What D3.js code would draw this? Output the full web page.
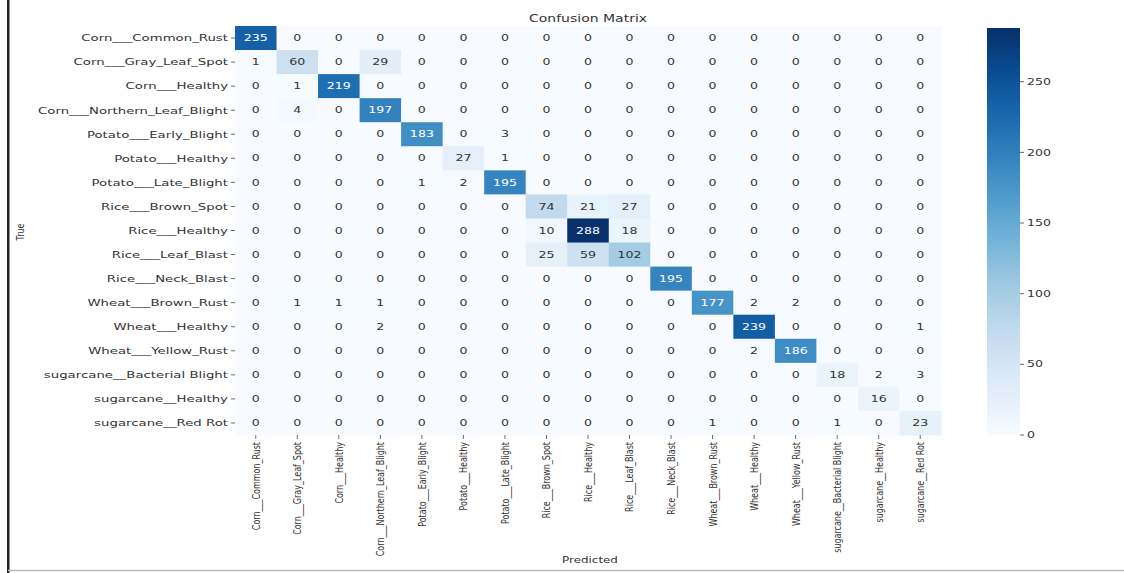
<!DOCTYPE html>
<html>
<head>
<meta charset="utf-8">
<script src="https://cdn.jsdelivr.net/npm/d3@7"></script>
<style>
  body { margin: 0; background: #fff; }
  svg { display: block; font-family: "DejaVu Sans", sans-serif; }
</style>
</head>
<body>
<svg id="chart" width="1124" height="573"></svg>
<script>
// class names (rows = true, cols = predicted)
const classes = [
  "Corn___Common_Rust", "Corn___Gray_Leaf_Spot", "Corn___Healthy", "Corn___Northern_Leaf_Blight",
  "Potato___Early_Blight", "Potato___Healthy", "Potato___Late_Blight",
  "Rice___Brown_Spot", "Rice___Healthy", "Rice___Leaf_Blast", "Rice___Neck_Blast",
  "Wheat___Brown_Rust", "Wheat___Healthy", "Wheat___Yellow_Rust",
  "sugarcane__Bacterial Blight", "sugarcane__Healthy", "sugarcane__Red Rot"
];

const counts = [
  [235,0,0,0,0,0,0,0,0,0,0,0,0,0,0,0,0],
  [1,60,0,29,0,0,0,0,0,0,0,0,0,0,0,0,0],
  [0,1,219,0,0,0,0,0,0,0,0,0,0,0,0,0,0],
  [0,4,0,197,0,0,0,0,0,0,0,0,0,0,0,0,0],
  [0,0,0,0,183,0,3,0,0,0,0,0,0,0,0,0,0],
  [0,0,0,0,0,27,1,0,0,0,0,0,0,0,0,0,0],
  [0,0,0,0,1,2,195,0,0,0,0,0,0,0,0,0,0],
  [0,0,0,0,0,0,0,74,21,27,0,0,0,0,0,0,0],
  [0,0,0,0,0,0,0,10,288,18,0,0,0,0,0,0,0],
  [0,0,0,0,0,0,0,25,59,102,0,0,0,0,0,0,0],
  [0,0,0,0,0,0,0,0,0,0,195,0,0,0,0,0,0],
  [0,1,1,1,0,0,0,0,0,0,0,177,2,2,0,0,0],
  [0,0,0,2,0,0,0,0,0,0,0,0,239,0,0,0,1],
  [0,0,0,0,0,0,0,0,0,0,0,0,2,186,0,0,0],
  [0,0,0,0,0,0,0,0,0,0,0,0,0,0,18,2,3],
  [0,0,0,0,0,0,0,0,0,0,0,0,0,0,0,16,0],
  [0,0,0,0,0,0,0,0,0,0,0,1,0,0,1,0,23]
];

const cbarTicks = [0, 50, 100, 150, 200, 250];

// the picture is stretched sideways, so text gets a horizontal scale
const SX = 1.4;

const svg = d3.select("#chart");

// page edges from the screenshot
svg.append("rect").attr("x", 7).attr("y", 0).attr("width", 2.5).attr("height", 573).attr("fill", "#222");
svg.append("line").attr("x1", 8).attr("x2", 1124).attr("y1", 570.5).attr("y2", 570.5)
  .attr("stroke", "#bbb").attr("stroke-width", 1.5);

const mLeft = 235, mRight = 941, mTop = 26, mBottom = 435;

const x = d3.scaleBand().domain(d3.range(classes.length)).range([mLeft, mRight]);
const y = d3.scaleBand().domain(d3.range(classes.length)).range([mTop, mBottom]);

const vmax = d3.max(counts.flat());
const color = d3.scaleSequential(d3.interpolateBlues).domain([0, vmax]);

function lum(c) {
  const rgb = d3.rgb(c);
  const f = v => { v /= 255; return v <= 0.03928 ? v / 12.92 : Math.pow((v + 0.055) / 1.055, 2.4); };
  return 0.2126 * f(rgb.r) + 0.7152 * f(rgb.g) + 0.0722 * f(rgb.b);
}

const cells = [];
counts.forEach((row, i) => row.forEach((v, j) => cells.push({i, j, v})));

svg.append("g").selectAll("rect")
  .data(cells)
  .enter().append("rect")
  .attr("x", d => x(d.j))
  .attr("y", d => y(d.i))
  .attr("width", x.bandwidth() + 0.5)
  .attr("height", y.bandwidth() + 0.5)
  .attr("fill", d => color(d.v));

svg.append("g").selectAll("text")
  .data(cells)
  .enter().append("text")
  .attr("transform", d => `translate(${x(d.j) + x.bandwidth() / 2},${y(d.i) + y.bandwidth() / 2}) scale(${SX},1)`)
  .attr("text-anchor", "middle")
  .attr("dy", "0.35em")
  .attr("font-size", 9)
  .attr("fill", d => lum(color(d.v)) < 0.408 ? "#fff" : "#333")
  .text(d => d.v);

// y axis labels + ticks
const yAx = svg.append("g");
classes.forEach((c, i) => {
  const cy = y(i) + y.bandwidth() / 2;
  yAx.append("line").attr("x1", mLeft - 4).attr("x2", mLeft).attr("y1", cy).attr("y2", cy)
    .attr("stroke", "#444").attr("stroke-width", 0.8);
  yAx.append("text")
    .attr("transform", `translate(${mLeft - 7},${cy}) scale(${SX},1)`)
    .attr("text-anchor", "end").attr("dy", "0.35em")
    .attr("font-size", 9.5).attr("fill", "#333")
    .text(c);
});

// x axis labels + ticks
const xAx = svg.append("g");
classes.forEach((c, j) => {
  const cx = x(j) + x.bandwidth() / 2;
  xAx.append("line").attr("x1", cx).attr("x2", cx).attr("y1", mBottom).attr("y2", mBottom + 4)
    .attr("stroke", "#444").attr("stroke-width", 0.8);
  xAx.append("text")
    .attr("transform", `translate(${cx},${mBottom + 7}) scale(${SX},1) rotate(-90)`)
    .attr("text-anchor", "end").attr("dy", "0.35em")
    .attr("font-size", 8).attr("fill", "#333")
    .text(c);
});

// title and axis names
svg.append("text").attr("transform", `translate(588,22) scale(${SX},1)`)
  .attr("text-anchor", "middle").attr("font-size", 10).attr("fill", "#333").text("Confusion Matrix");
svg.append("text").attr("transform", `translate(590,563) scale(${SX},1)`)
  .attr("text-anchor", "middle").attr("font-size", 8.5).attr("fill", "#333").text("Predicted");
svg.append("text").attr("transform", `translate(24,232) scale(${SX},1) rotate(-90)`)
  .attr("text-anchor", "middle").attr("font-size", 8).attr("fill", "#333").text("True");

// colorbar
const cbX = 987, cbW = 33;
const cbY = d3.scaleLinear().domain([0, vmax]).range([mBottom, 28]);
const defs = svg.append("defs");
const grad = defs.append("linearGradient").attr("id", "cb").attr("x1", 0).attr("x2", 0).attr("y1", 1).attr("y2", 0);
d3.range(0, 1.001, 0.05).forEach(t => {
  grad.append("stop").attr("offset", t).attr("stop-color", d3.interpolateBlues(t));
});
svg.append("rect").attr("x", cbX).attr("y", cbY(vmax)).attr("width", cbW)
  .attr("height", cbY(0) - cbY(vmax)).attr("fill", "url(#cb)");

const cbAxis = svg.append("g");
cbarTicks.forEach(t => {
  const ty = cbY(t);
  cbAxis.append("line").attr("x1", cbX + cbW).attr("x2", cbX + cbW + 4).attr("y1", ty).attr("y2", ty)
    .attr("stroke", "#444").attr("stroke-width", 0.8);
  cbAxis.append("text").attr("transform", `translate(${cbX + cbW + 7},${ty}) scale(${SX},1)`)
    .attr("dy", "0.35em").attr("font-size", 9).attr("fill", "#333").text(t);
});
</script>
</body>
</html>
